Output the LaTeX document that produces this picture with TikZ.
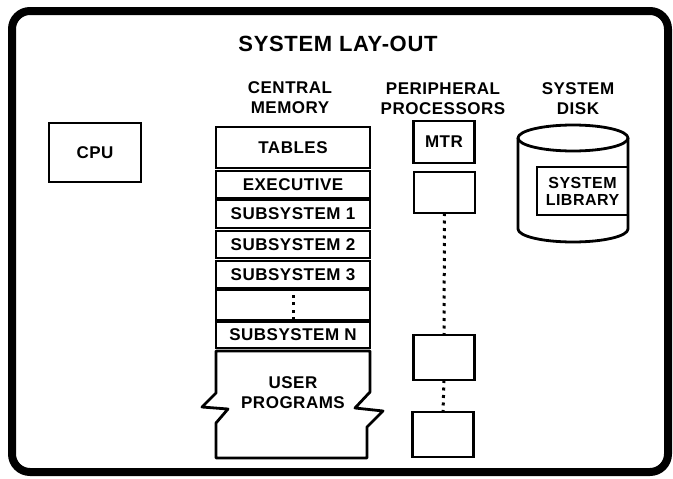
\documentclass[tikz,border=0pt]{standalone}
\usepackage{fontspec}
\setmainfont{Liberation Sans}[LetterSpace=3]
\begin{document}
\begin{tikzpicture}[x=1pt,y=-1pt,
  lbl/.style={font=\fontsize{17}{20}\selectfont\bfseries, align=center, inner sep=0pt},
  box/.style={draw, line width=2.6pt, inner sep=0pt, outer sep=0pt,
              font=\fontsize{17}{20}\selectfont\bfseries, align=center},
  membox/.style={box, minimum width=154pt},
  ppbox/.style={box, minimum width=61pt},
  dotline/.style={line width=3pt, dash pattern=on 3pt off 4.5pt},
  rim/.style={line width=2.8pt, line join=round}]
  \useasboundingbox (0,0) rectangle (673,479);
  \fill[white] (0,0) rectangle (673,479);

  % frame
  \draw[line width=8pt, rounded corners=18pt] (12,11) rectangle (668,472);

  % headings
  \node[lbl, font=\fontsize{22}{26}\selectfont\bfseries] (title) at (338,44) {SYSTEM LAY-OUT};
  \node[lbl] (cmlbl) at (290,98) {CENTRAL\\MEMORY};
  \node[lbl] (pplbl) at (443,99) {PERIPHERAL\\PROCESSORS};
  \node[lbl] (sdlbl) at (578,99) {SYSTEM\\DISK};

  % CPU
  \node[box, minimum width=92pt, minimum height=59pt] (cpu) at (95,152.5) {CPU};

  % central memory stack
  \node[membox, minimum height=41pt] (tables) at (293,147.5) {TABLES};
  \node[membox, minimum height=27pt] (exec)   at (293,184.5) {EXECUTIVE};
  \node[membox, minimum height=28pt] (sub1)   at (293,214)   {SUBSYSTEM 1};
  \node[membox, minimum height=27pt] (sub2)   at (293,244.5) {SUBSYSTEM 2};
  \node[membox, minimum height=27pt] (sub3)   at (293,274.5) {SUBSYSTEM 3};
  \node[membox, minimum height=30pt] (dots)   at (293,305)   {};
  \node[membox, minimum height=26pt] (subn)   at (293,335)   {SUBSYSTEM N};
  \draw[dotline] (dots.south) -- ++(0,-26);

  % user programs area with torn edges
  \draw[rim] (216,351) -- (370,351) -- (370,392) -- (355,408) -- (383,411)
    -- (367,427) -- (367,458) -- (216,458) -- (216,423) -- (228,409)
    -- (202,407) -- (216,393) -- cycle;
  \node[lbl] (user) at (293,393) {USER\\PROGRAMS};

  % peripheral processors
  \node[ppbox, minimum height=42pt] (mtr) at (444,142)   {MTR};
  \node[ppbox, minimum height=41pt] (pp2) at (444.5,192.5) {};
  \node[ppbox, minimum height=45pt] (pp3) at (444,357.5) {};
  \node[ppbox, minimum height=45pt] (pp4) at (443,434.5) {};
  \draw[dotline] (pp2.south) -- (pp3.north);
  \draw[dotline] (pp3.south) -- (pp4.north);

  % system disk
  \coordinate (disk) at (573,138);
  \draw[rim] (disk) ellipse [x radius=55, y radius=13];
  \draw[rim] (518,138) -- (518,229) arc [start angle=180, end angle=0, x radius=55, y radius=13] -- (628,138);
  \node[box, minimum width=91pt, minimum height=48pt,
        font=\fontsize{16}{17}\selectfont\bfseries] (lib) at (582.5,191) {SYSTEM\\LIBRARY};
\end{tikzpicture}
\end{document}
